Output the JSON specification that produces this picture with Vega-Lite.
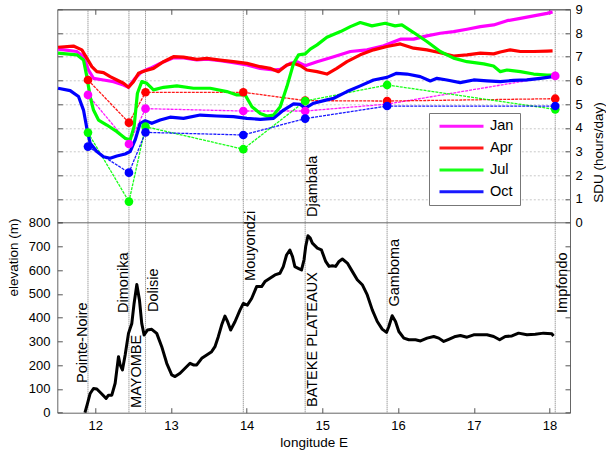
{
"$schema": "https://vega.github.io/schema/vega-lite/v6.json",
"width": 512.7,
"height": 403.4,
"autosize": {"type": "none"},
"padding": {"left": 57.3, "top": 9.3, "right": 36, "bottom": 42.3},
"background": "white",
"config": {
  "view": {"stroke": "#666", "strokeWidth": 1},
  "font": "Liberation Sans",
  "axis": {"domain": false, "grid": false, "tickColor": "#555", "tickSize": -5, "labelFont": "Liberation Sans", "labelFontSize": 13, "labelColor": "black", "titleFont": "Liberation Sans", "titleFontSize": 13.5, "titleFontWeight": "normal", "titleColor": "black"},
  "legend": {"orient": "none", "legendX": 371.7, "legendY": 103.7, "symbolType": "stroke", "symbolSize": 1936, "symbolStrokeWidth": 3, "labelFont": "Liberation Sans", "labelFontSize": 14.5, "labelColor": "black", "labelOffset": 5, "padding": 5.8, "clipHeight": 15, "rowPadding": 5.8, "symbolOffset": 3.2, "strokeColor": "#777", "fillColor": "white"}
},
"datasets": {
  "lines": [{"lon": 11.905}, {"lon": 12.446}, {"lon": 12.665}, {"lon": 13.956}, {"lon": 14.773}, {"lon": 15.855}, {"lon": 18.075}],
  "labels": [
    {"name": "Pointe-Noire", "lon": 11.905, "pos": 125, "side": "left"},
    {"name": "Dimonika", "lon": 12.446, "pos": 420, "side": "left"},
    {"name": "MAYOMBE", "lon": 12.446, "pos": 20, "side": "right"},
    {"name": "Dolisie", "lon": 12.665, "pos": 424, "side": "right"},
    {"name": "Mouyondzi", "lon": 13.956, "pos": 555, "side": "right"},
    {"name": "Djambala", "lon": 14.773, "pos": 824, "side": "right"},
    {"name": "BATEKE PLATEAUX", "lon": 14.773, "pos": 24, "side": "right"},
    {"name": "Gamboma", "lon": 15.855, "pos": 447, "side": "right"},
    {"name": "Impfondo", "lon": 18.075, "pos": 420, "side": "right"}
  ],
  "stations": [
    {"month": "Jan", "lon": 11.905, "v": 5.39}, {"month": "Jan", "lon": 12.446, "v": 3.32}, {"month": "Jan", "lon": 12.665, "v": 4.81}, {"month": "Jan", "lon": 13.956, "v": 4.71}, {"month": "Jan", "lon": 14.773, "v": 4.71}, {"month": "Jan", "lon": 15.855, "v": 5.0}, {"month": "Jan", "lon": 18.075, "v": 6.19},
    {"month": "Apr", "lon": 11.905, "v": 6.02}, {"month": "Apr", "lon": 12.446, "v": 4.22}, {"month": "Apr", "lon": 12.665, "v": 5.5}, {"month": "Apr", "lon": 13.956, "v": 5.5}, {"month": "Apr", "lon": 14.773, "v": 5.15}, {"month": "Apr", "lon": 15.855, "v": 5.13}, {"month": "Apr", "lon": 18.075, "v": 5.23},
    {"month": "Jul", "lon": 11.905, "v": 3.8}, {"month": "Jul", "lon": 12.446, "v": 0.89}, {"month": "Jul", "lon": 12.665, "v": 4.05}, {"month": "Jul", "lon": 13.956, "v": 3.1}, {"month": "Jul", "lon": 14.773, "v": 5.13}, {"month": "Jul", "lon": 15.855, "v": 5.81}, {"month": "Jul", "lon": 18.075, "v": 4.78},
    {"month": "Oct", "lon": 11.905, "v": 3.21}, {"month": "Oct", "lon": 12.446, "v": 2.11}, {"month": "Oct", "lon": 12.665, "v": 3.81}, {"month": "Oct", "lon": 13.956, "v": 3.7}, {"month": "Oct", "lon": 14.773, "v": 4.39}, {"month": "Oct", "lon": 15.855, "v": 4.92}, {"month": "Oct", "lon": 18.075, "v": 4.92}
  ],
  "sdu": [
    {"month": "Jan", "lon": 11.51, "v": 7.32}, {"month": "Jan", "lon": 11.758, "v": 7.22}, {"month": "Jan", "lon": 11.846, "v": 7.0}, {"month": "Jan", "lon": 11.912, "v": 6.44}, {"month": "Jan", "lon": 11.978, "v": 6.09}, {"month": "Jan", "lon": 12.11, "v": 6.02}, {"month": "Jan", "lon": 12.242, "v": 5.95}, {"month": "Jan", "lon": 12.374, "v": 5.81}, {"month": "Jan", "lon": 12.44, "v": 5.71}, {"month": "Jan", "lon": 12.528, "v": 6.09}, {"month": "Jan", "lon": 12.616, "v": 6.37}, {"month": "Jan", "lon": 12.726, "v": 6.51}, {"month": "Jan", "lon": 12.858, "v": 6.72}, {"month": "Jan", "lon": 13.034, "v": 6.96}, {"month": "Jan", "lon": 13.166, "v": 6.95}, {"month": "Jan", "lon": 13.343, "v": 6.87}, {"month": "Jan", "lon": 13.475, "v": 6.9}, {"month": "Jan", "lon": 13.651, "v": 6.83}, {"month": "Jan", "lon": 13.827, "v": 6.75}, {"month": "Jan", "lon": 14.004, "v": 6.65}, {"month": "Jan", "lon": 14.18, "v": 6.51}, {"month": "Jan", "lon": 14.356, "v": 6.44}, {"month": "Jan", "lon": 14.444, "v": 6.47}, {"month": "Jan", "lon": 14.576, "v": 6.72}, {"month": "Jan", "lon": 14.664, "v": 6.79}, {"month": "Jan", "lon": 14.774, "v": 6.62}, {"month": "Jan", "lon": 14.93, "v": 6.79}, {"month": "Jan", "lon": 15.15, "v": 7.0}, {"month": "Jan", "lon": 15.37, "v": 7.22}, {"month": "Jan", "lon": 15.59, "v": 7.29}, {"month": "Jan", "lon": 15.81, "v": 7.46}, {"month": "Jan", "lon": 16.03, "v": 7.74}, {"month": "Jan", "lon": 16.205, "v": 7.74}, {"month": "Jan", "lon": 16.38, "v": 7.88}, {"month": "Jan", "lon": 16.557, "v": 7.99}, {"month": "Jan", "lon": 16.733, "v": 8.06}, {"month": "Jan", "lon": 16.91, "v": 8.16}, {"month": "Jan", "lon": 17.086, "v": 8.27}, {"month": "Jan", "lon": 17.262, "v": 8.34}, {"month": "Jan", "lon": 17.438, "v": 8.52}, {"month": "Jan", "lon": 17.614, "v": 8.62}, {"month": "Jan", "lon": 17.79, "v": 8.72}, {"month": "Jan", "lon": 17.967, "v": 8.83}, {"month": "Jan", "lon": 18.04, "v": 8.89},
    {"month": "Apr", "lon": 11.51, "v": 7.4}, {"month": "Apr", "lon": 11.713, "v": 7.45}, {"month": "Apr", "lon": 11.824, "v": 7.29}, {"month": "Apr", "lon": 11.89, "v": 6.94}, {"month": "Apr", "lon": 11.956, "v": 6.58}, {"month": "Apr", "lon": 12.022, "v": 6.37}, {"month": "Apr", "lon": 12.11, "v": 6.33}, {"month": "Apr", "lon": 12.198, "v": 6.16}, {"month": "Apr", "lon": 12.287, "v": 6.02}, {"month": "Apr", "lon": 12.374, "v": 5.88}, {"month": "Apr", "lon": 12.44, "v": 5.71}, {"month": "Apr", "lon": 12.506, "v": 5.95}, {"month": "Apr", "lon": 12.572, "v": 6.3}, {"month": "Apr", "lon": 12.66, "v": 6.41}, {"month": "Apr", "lon": 12.77, "v": 6.51}, {"month": "Apr", "lon": 12.903, "v": 6.79}, {"month": "Apr", "lon": 13.034, "v": 7.0}, {"month": "Apr", "lon": 13.166, "v": 6.98}, {"month": "Apr", "lon": 13.343, "v": 6.89}, {"month": "Apr", "lon": 13.475, "v": 6.93}, {"month": "Apr", "lon": 13.651, "v": 6.86}, {"month": "Apr", "lon": 13.827, "v": 6.79}, {"month": "Apr", "lon": 14.004, "v": 6.72}, {"month": "Apr", "lon": 14.18, "v": 6.58}, {"month": "Apr", "lon": 14.31, "v": 6.51}, {"month": "Apr", "lon": 14.42, "v": 6.37}, {"month": "Apr", "lon": 14.53, "v": 6.65}, {"month": "Apr", "lon": 14.62, "v": 6.72}, {"month": "Apr", "lon": 14.71, "v": 6.62}, {"month": "Apr", "lon": 14.796, "v": 6.44}, {"month": "Apr", "lon": 14.93, "v": 6.37}, {"month": "Apr", "lon": 15.06, "v": 6.27}, {"month": "Apr", "lon": 15.19, "v": 6.51}, {"month": "Apr", "lon": 15.325, "v": 6.79}, {"month": "Apr", "lon": 15.5, "v": 7.08}, {"month": "Apr", "lon": 15.676, "v": 7.29}, {"month": "Apr", "lon": 15.853, "v": 7.43}, {"month": "Apr", "lon": 16.03, "v": 7.54}, {"month": "Apr", "lon": 16.205, "v": 7.36}, {"month": "Apr", "lon": 16.382, "v": 7.29}, {"month": "Apr", "lon": 16.557, "v": 7.17}, {"month": "Apr", "lon": 16.733, "v": 7.03}, {"month": "Apr", "lon": 16.91, "v": 7.08}, {"month": "Apr", "lon": 17.086, "v": 7.15}, {"month": "Apr", "lon": 17.262, "v": 7.12}, {"month": "Apr", "lon": 17.35, "v": 7.2}, {"month": "Apr", "lon": 17.48, "v": 7.29}, {"month": "Apr", "lon": 17.614, "v": 7.22}, {"month": "Apr", "lon": 17.79, "v": 7.22}, {"month": "Apr", "lon": 17.967, "v": 7.24}, {"month": "Apr", "lon": 18.04, "v": 7.25},
    {"month": "Jul", "lon": 11.51, "v": 7.15}, {"month": "Jul", "lon": 11.758, "v": 7.08}, {"month": "Jul", "lon": 11.846, "v": 6.86}, {"month": "Jul", "lon": 11.89, "v": 6.16}, {"month": "Jul", "lon": 11.934, "v": 5.32}, {"month": "Jul", "lon": 11.978, "v": 4.75}, {"month": "Jul", "lon": 12.044, "v": 4.33}, {"month": "Jul", "lon": 12.154, "v": 4.12}, {"month": "Jul", "lon": 12.287, "v": 3.84}, {"month": "Jul", "lon": 12.396, "v": 3.56}, {"month": "Jul", "lon": 12.462, "v": 3.49}, {"month": "Jul", "lon": 12.514, "v": 4.05}, {"month": "Jul", "lon": 12.558, "v": 5.46}, {"month": "Jul", "lon": 12.616, "v": 5.95}, {"month": "Jul", "lon": 12.682, "v": 5.88}, {"month": "Jul", "lon": 12.77, "v": 5.6}, {"month": "Jul", "lon": 12.903, "v": 5.71}, {"month": "Jul", "lon": 13.078, "v": 5.77}, {"month": "Jul", "lon": 13.298, "v": 5.67}, {"month": "Jul", "lon": 13.519, "v": 5.67}, {"month": "Jul", "lon": 13.739, "v": 5.53}, {"month": "Jul", "lon": 13.871, "v": 5.39}, {"month": "Jul", "lon": 13.98, "v": 5.39}, {"month": "Jul", "lon": 14.07, "v": 4.89}, {"month": "Jul", "lon": 14.18, "v": 4.61}, {"month": "Jul", "lon": 14.268, "v": 4.5}, {"month": "Jul", "lon": 14.356, "v": 4.54}, {"month": "Jul", "lon": 14.444, "v": 4.89}, {"month": "Jul", "lon": 14.532, "v": 5.74}, {"month": "Jul", "lon": 14.62, "v": 6.72}, {"month": "Jul", "lon": 14.686, "v": 7.08}, {"month": "Jul", "lon": 14.774, "v": 7.12}, {"month": "Jul", "lon": 14.84, "v": 7.32}, {"month": "Jul", "lon": 14.93, "v": 7.5}, {"month": "Jul", "lon": 15.06, "v": 7.82}, {"month": "Jul", "lon": 15.24, "v": 8.06}, {"month": "Jul", "lon": 15.37, "v": 8.27}, {"month": "Jul", "lon": 15.5, "v": 8.44}, {"month": "Jul", "lon": 15.655, "v": 8.3}, {"month": "Jul", "lon": 15.83, "v": 8.41}, {"month": "Jul", "lon": 15.96, "v": 8.3}, {"month": "Jul", "lon": 16.05, "v": 8.34}, {"month": "Jul", "lon": 16.205, "v": 8.02}, {"month": "Jul", "lon": 16.38, "v": 7.64}, {"month": "Jul", "lon": 16.557, "v": 7.22}, {"month": "Jul", "lon": 16.733, "v": 6.94}, {"month": "Jul", "lon": 16.91, "v": 6.79}, {"month": "Jul", "lon": 17.13, "v": 6.7}, {"month": "Jul", "lon": 17.26, "v": 6.61}, {"month": "Jul", "lon": 17.35, "v": 6.37}, {"month": "Jul", "lon": 17.438, "v": 6.44}, {"month": "Jul", "lon": 17.614, "v": 6.37}, {"month": "Jul", "lon": 17.79, "v": 6.27}, {"month": "Jul", "lon": 17.967, "v": 6.23}, {"month": "Jul", "lon": 18.04, "v": 6.23},
    {"month": "Oct", "lon": 11.51, "v": 5.67}, {"month": "Oct", "lon": 11.67, "v": 5.57}, {"month": "Oct", "lon": 11.78, "v": 5.32}, {"month": "Oct", "lon": 11.846, "v": 4.75}, {"month": "Oct", "lon": 11.89, "v": 3.98}, {"month": "Oct", "lon": 11.934, "v": 3.35}, {"month": "Oct", "lon": 12.022, "v": 3.0}, {"month": "Oct", "lon": 12.11, "v": 2.78}, {"month": "Oct", "lon": 12.198, "v": 2.72}, {"month": "Oct", "lon": 12.287, "v": 2.81}, {"month": "Oct", "lon": 12.396, "v": 2.9}, {"month": "Oct", "lon": 12.462, "v": 3.0}, {"month": "Oct", "lon": 12.528, "v": 3.49}, {"month": "Oct", "lon": 12.594, "v": 4.19}, {"month": "Oct", "lon": 12.66, "v": 4.3}, {"month": "Oct", "lon": 12.748, "v": 4.19}, {"month": "Oct", "lon": 12.858, "v": 4.33}, {"month": "Oct", "lon": 12.99, "v": 4.45}, {"month": "Oct", "lon": 13.166, "v": 4.4}, {"month": "Oct", "lon": 13.387, "v": 4.54}, {"month": "Oct", "lon": 13.607, "v": 4.5}, {"month": "Oct", "lon": 13.827, "v": 4.47}, {"month": "Oct", "lon": 14.004, "v": 4.4}, {"month": "Oct", "lon": 14.18, "v": 4.36}, {"month": "Oct", "lon": 14.356, "v": 4.4}, {"month": "Oct", "lon": 14.488, "v": 4.75}, {"month": "Oct", "lon": 14.62, "v": 5.01}, {"month": "Oct", "lon": 14.708, "v": 4.99}, {"month": "Oct", "lon": 14.774, "v": 4.83}, {"month": "Oct", "lon": 14.885, "v": 5.04}, {"month": "Oct", "lon": 15.06, "v": 5.18}, {"month": "Oct", "lon": 15.15, "v": 5.25}, {"month": "Oct", "lon": 15.325, "v": 5.53}, {"month": "Oct", "lon": 15.5, "v": 5.77}, {"month": "Oct", "lon": 15.676, "v": 6.02}, {"month": "Oct", "lon": 15.853, "v": 6.13}, {"month": "Oct", "lon": 15.98, "v": 6.3}, {"month": "Oct", "lon": 16.117, "v": 6.27}, {"month": "Oct", "lon": 16.293, "v": 6.16}, {"month": "Oct", "lon": 16.425, "v": 5.98}, {"month": "Oct", "lon": 16.513, "v": 6.09}, {"month": "Oct", "lon": 16.645, "v": 6.02}, {"month": "Oct", "lon": 16.82, "v": 5.91}, {"month": "Oct", "lon": 16.998, "v": 6.02}, {"month": "Oct", "lon": 17.174, "v": 5.98}, {"month": "Oct", "lon": 17.35, "v": 5.95}, {"month": "Oct", "lon": 17.526, "v": 6.0}, {"month": "Oct", "lon": 17.7, "v": 6.02}, {"month": "Oct", "lon": 17.878, "v": 6.09}, {"month": "Oct", "lon": 18.04, "v": 6.16}
  ],
  "elev": [
    {"lon": 11.865, "elev": 0}, {"lon": 11.899, "elev": 39}, {"lon": 11.934, "elev": 81}, {"lon": 11.978, "elev": 102}, {"lon": 12.022, "elev": 100}, {"lon": 12.088, "elev": 79}, {"lon": 12.145, "elev": 60}, {"lon": 12.176, "elev": 74}, {"lon": 12.22, "elev": 74}, {"lon": 12.264, "elev": 124}, {"lon": 12.308, "elev": 236}, {"lon": 12.33, "elev": 201}, {"lon": 12.36, "elev": 180}, {"lon": 12.396, "elev": 243}, {"lon": 12.44, "elev": 334}, {"lon": 12.484, "elev": 376}, {"lon": 12.514, "elev": 460}, {"lon": 12.55, "elev": 540}, {"lon": 12.585, "elev": 474}, {"lon": 12.615, "elev": 376}, {"lon": 12.646, "elev": 327}, {"lon": 12.69, "elev": 348}, {"lon": 12.747, "elev": 351}, {"lon": 12.813, "elev": 334}, {"lon": 12.879, "elev": 278}, {"lon": 12.945, "elev": 208}, {"lon": 13.011, "elev": 159}, {"lon": 13.055, "elev": 152}, {"lon": 13.121, "elev": 166}, {"lon": 13.187, "elev": 187}, {"lon": 13.253, "elev": 208}, {"lon": 13.297, "elev": 201}, {"lon": 13.341, "elev": 201}, {"lon": 13.407, "elev": 229}, {"lon": 13.473, "elev": 243}, {"lon": 13.538, "elev": 257}, {"lon": 13.582, "elev": 278}, {"lon": 13.626, "elev": 320}, {"lon": 13.67, "elev": 369}, {"lon": 13.714, "elev": 407}, {"lon": 13.749, "elev": 383}, {"lon": 13.789, "elev": 348}, {"lon": 13.846, "elev": 383}, {"lon": 13.912, "elev": 432}, {"lon": 13.956, "elev": 460}, {"lon": 14.009, "elev": 453}, {"lon": 14.066, "elev": 481}, {"lon": 14.132, "elev": 531}, {"lon": 14.198, "elev": 531}, {"lon": 14.242, "elev": 552}, {"lon": 14.308, "elev": 566}, {"lon": 14.374, "elev": 580}, {"lon": 14.44, "elev": 587}, {"lon": 14.484, "elev": 615}, {"lon": 14.527, "elev": 664}, {"lon": 14.571, "elev": 685}, {"lon": 14.606, "elev": 657}, {"lon": 14.637, "elev": 615}, {"lon": 14.681, "elev": 608}, {"lon": 14.725, "elev": 601}, {"lon": 14.758, "elev": 644}, {"lon": 14.78, "elev": 700}, {"lon": 14.81, "elev": 745}, {"lon": 14.84, "elev": 735}, {"lon": 14.868, "elev": 714}, {"lon": 14.934, "elev": 693}, {"lon": 14.987, "elev": 686}, {"lon": 15.044, "elev": 637}, {"lon": 15.088, "elev": 616}, {"lon": 15.132, "elev": 619}, {"lon": 15.176, "elev": 616}, {"lon": 15.22, "elev": 637}, {"lon": 15.264, "elev": 647}, {"lon": 15.33, "elev": 630}, {"lon": 15.395, "elev": 595}, {"lon": 15.461, "elev": 560}, {"lon": 15.527, "elev": 539}, {"lon": 15.593, "elev": 496}, {"lon": 15.659, "elev": 433}, {"lon": 15.725, "elev": 384}, {"lon": 15.79, "elev": 352}, {"lon": 15.847, "elev": 338}, {"lon": 15.878, "elev": 363}, {"lon": 15.922, "elev": 408}, {"lon": 15.966, "elev": 384}, {"lon": 16.01, "elev": 342}, {"lon": 16.076, "elev": 314}, {"lon": 16.142, "elev": 307}, {"lon": 16.23, "elev": 307}, {"lon": 16.296, "elev": 302}, {"lon": 16.383, "elev": 314}, {"lon": 16.471, "elev": 321}, {"lon": 16.537, "elev": 314}, {"lon": 16.603, "elev": 300}, {"lon": 16.669, "elev": 309}, {"lon": 16.757, "elev": 321}, {"lon": 16.823, "elev": 325}, {"lon": 16.91, "elev": 318}, {"lon": 16.998, "elev": 328}, {"lon": 17.086, "elev": 328}, {"lon": 17.174, "elev": 328}, {"lon": 17.262, "elev": 321}, {"lon": 17.341, "elev": 307}, {"lon": 17.415, "elev": 321}, {"lon": 17.503, "elev": 323}, {"lon": 17.591, "elev": 335}, {"lon": 17.701, "elev": 328}, {"lon": 17.811, "elev": 330}, {"lon": 17.92, "elev": 335}, {"lon": 18.031, "elev": 332}, {"lon": 18.052, "elev": 323}
  ]
},
"resolve": {"scale": {"y": "independent"}, "axis": {"x": "independent"}},
"layer": [
  {
    "data": {"name": "lines"},
    "mark": {"type": "rule", "color": "#777", "strokeWidth": 1, "strokeDash": [1, 1]},
    "encoding": {
      "x": {"field": "lon", "type": "quantitative", "scale": {"domain": [11.5, 18.27], "nice": false, "zero": false},
            "axis": {"orient": "top", "labels": false, "values": [12, 13, 14, 15, 16, 17, 18], "title": null}}
    }
  },
  {
    "data": {"name": "elev"},
    "mark": {"type": "line", "color": "black", "strokeWidth": 3, "strokeJoin": "round"},
    "encoding": {
      "x": {"field": "lon", "type": "quantitative", "scale": {"domain": [11.5, 18.27], "nice": false, "zero": false},
            "axis": {"orient": "bottom", "values": [12, 13, 14, 15, 16, 17, 18], "title": "longitude E", "labelPadding": 12.3, "titleY": 23.3, "titleBaseline": "top"}},
      "y": {"field": "elev", "type": "quantitative", "scale": {"domain": [0, 800], "range": [403.4, 213.4], "nice": false, "zero": false},
            "axis": {"orient": "left", "values": [0, 100, 200, 300, 400, 500, 600, 700, 800], "title": "elevation (m)", "labelPadding": 12.3, "titleAngle": 270, "titleX": -44, "titleY": 247.7, "titleAlign": "center", "titleBaseline": "middle"}}
    }
  },
  {
    "layer": [
      {
        "data": {"name": "stations"},
        "mark": {"type": "line", "strokeWidth": 1.3, "strokeDash": [3, 1], "opacity": 0.9},
        "encoding": {
          "x": {"field": "lon", "type": "quantitative", "scale": {"domain": [11.5, 18.27], "nice": false, "zero": false}, "axis": null},
          "y": {"field": "v", "type": "quantitative", "scale": {"domain": [0, 9], "range": [213.4, 0], "nice": false, "zero": false},
                "axis": {"orient": "left", "labels": false, "values": [0, 1, 2, 3, 4, 5, 6, 7, 8, 9], "title": null, "grid": true, "gridWidth": 1,
                         "gridColor": {"condition": {"test": "datum.value === 0 || datum.value === 9", "value": "#666"}, "value": "#c8c8c8"},
                         "gridDash": {"condition": {"test": "datum.value === 0 || datum.value === 9", "value": []}, "value": [2, 2]}}},
          "color": {"field": "month", "type": "nominal", "scale": {"domain": ["Jan", "Apr", "Jul", "Oct"], "range": ["#ff00ff", "#ff0000", "#00ff00", "#0000ff"]}, "legend": {"title": null}}
        }
      },
      {
        "data": {"name": "sdu"},
        "mark": {"type": "line", "strokeWidth": 3.2, "strokeJoin": "round"},
        "encoding": {
          "x": {"field": "lon", "type": "quantitative", "scale": {"domain": [11.5, 18.27], "nice": false, "zero": false}, "axis": null},
          "y": {"field": "v", "type": "quantitative", "scale": {"domain": [0, 9], "range": [213.4, 0], "nice": false, "zero": false},
                "axis": {"orient": "left", "labels": false, "values": [0, 1, 2, 3, 4, 5, 6, 7, 8, 9], "title": null, "grid": true, "gridWidth": 1,
                         "gridColor": {"condition": {"test": "datum.value === 0 || datum.value === 9", "value": "#666"}, "value": "#c8c8c8"},
                         "gridDash": {"condition": {"test": "datum.value === 0 || datum.value === 9", "value": []}, "value": [2, 2]}}},
          "color": {"field": "month", "type": "nominal", "scale": {"domain": ["Jan", "Apr", "Jul", "Oct"], "range": ["#ff00ff", "#ff0000", "#00ff00", "#0000ff"]}, "legend": {"title": null}}
        }
      }
    ]
  },
  {
    "data": {"name": "stations"},
    "mark": {"type": "circle", "size": 75, "opacity": 1},
    "encoding": {
      "x": {"field": "lon", "type": "quantitative", "scale": {"domain": [11.5, 18.27], "nice": false, "zero": false}, "axis": null},
      "y": {"field": "v", "type": "quantitative", "scale": {"domain": [0, 9], "range": [213.4, 0], "nice": false, "zero": false},
            "axis": {"orient": "right", "values": [0, 1, 2, 3, 4, 5, 6, 7, 8, 9], "title": "SDU (hours/day)", "labelPadding": 10, "titleAngle": 270, "titleX": 28, "titleY": 142.7, "titleAlign": "center", "titleBaseline": "middle"}},
      "color": {"field": "month", "type": "nominal", "scale": {"domain": ["Jan", "Apr", "Jul", "Oct"], "range": ["#ff00ff", "#ff0000", "#00ff00", "#0000ff"]}, "legend": {"title": null}}
    }
  },
  {
    "data": {"name": "labels"},
    "layer": [
      {
        "transform": [{"filter": "datum.side === 'left'"}],
        "mark": {"type": "text", "angle": 270, "align": "left", "baseline": "alphabetic", "dy": -1.3, "font": "Liberation Sans", "fontSize": 14.5, "color": "black"},
        "encoding": {
          "x": {"field": "lon", "type": "quantitative", "scale": {"domain": [11.5, 18.27], "nice": false, "zero": false}, "axis": null},
          "y": {"field": "pos", "type": "quantitative", "scale": {"domain": [0, 800], "range": [403.4, 213.4], "nice": false, "zero": false},
                "axis": {"orient": "right", "labels": false, "values": [0, 100, 200, 300, 400, 500, 600, 700], "title": null}},
          "text": {"field": "name", "type": "nominal"}
        }
      },
      {
        "transform": [{"filter": "datum.side === 'right'"}],
        "mark": {"type": "text", "angle": 270, "align": "left", "baseline": "top", "dy": 1, "font": "Liberation Sans", "fontSize": 14.5, "color": "black"},
        "encoding": {
          "x": {"field": "lon", "type": "quantitative", "scale": {"domain": [11.5, 18.27], "nice": false, "zero": false}, "axis": null},
          "y": {"field": "pos", "type": "quantitative", "scale": {"domain": [0, 800], "range": [403.4, 213.4], "nice": false, "zero": false},
                "axis": {"orient": "right", "labels": false, "values": [0, 100, 200, 300, 400, 500, 600, 700], "title": null}},
          "text": {"field": "name", "type": "nominal"}
        }
      }
    ]
  }
]
}
